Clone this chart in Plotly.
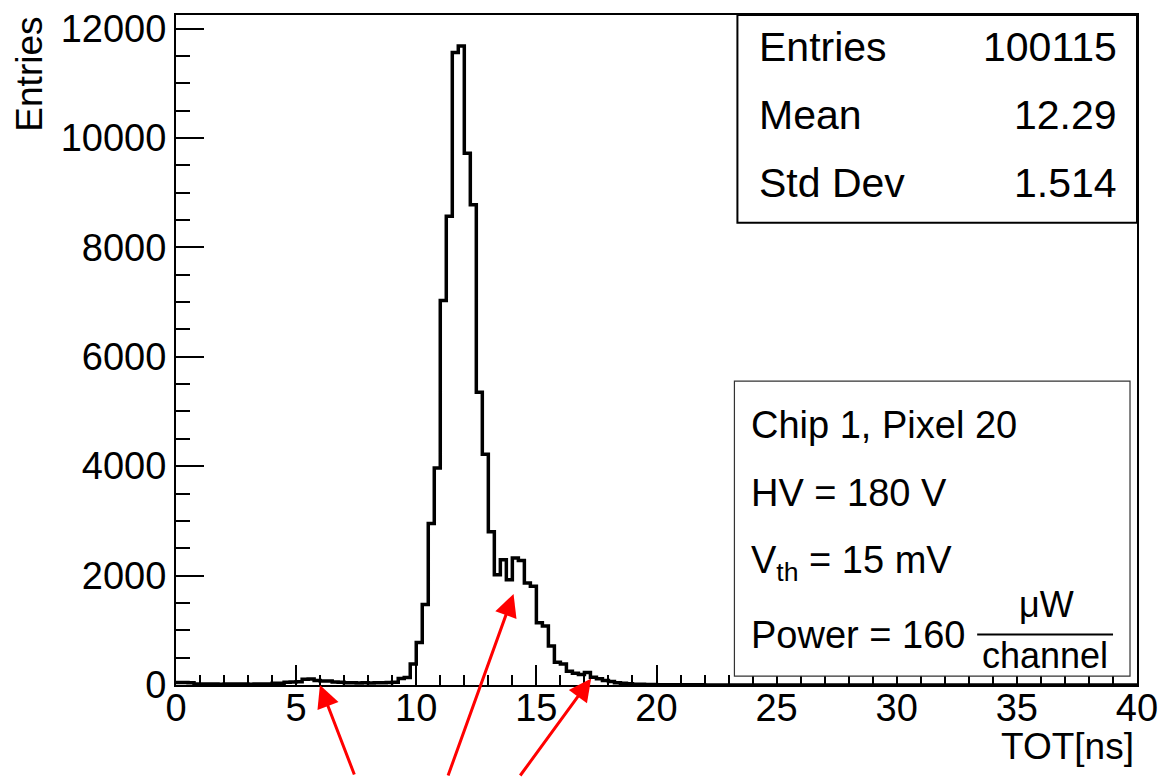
import numpy as np
import plotly.graph_objects as go

# ---------------- data ----------------
BIN_LOW = 0.0
BIN_WIDTH = 0.25
counts = [
    45, 45, 40, 20, 20, 18, 20, 15, 18, 20, 18, 20, 15, 20, 18, 20,   # 0 - 4
    30, 32, 50, 55, 60, 105, 110, 80, 75, 75, 55, 50,                 # 4 - 7
    42, 40, 38, 40, 38, 40, 42, 45, 50, 120, 135, 385,                # 7 - 10
    775, 1470, 2950, 3965, 7030, 8570, 11560, 11680,                   # 10 - 12
    9720, 8780, 5350, 4220, 2800, 2015, 2290, 1925,                    # 12 - 14
    2320, 2275, 1865, 1805, 1140, 1080, 715, 415,                      # 14 - 16
    385, 250, 215, 190, 228, 142, 113, 82,                             # 16 - 18
    64, 40, 30, 22, 15, 12, 10, 8,                                     # 18 - 20
    6, 5, 5, 4, 4, 3, 3, 3, 2, 2, 2, 2, 1, 1, 1, 1,                    # 20 - 24
] + [0] * 64

x_ticks = [0, 5, 10, 15, 20, 25, 30, 35, 40]
y_ticks = [0, 2000, 4000, 6000, 8000, 10000, 12000]

stats_labels = ["Entries", "Mean", "Std Dev"]
stats_values = ["100115", "12.29", "1.514"]

info_lines = ["Chip 1, Pixel 20", "HV = 180 V", "V<sub>th</sub> = 15 mV", "Power = 160"]
frac_num = "\u03bcW"
frac_den = "channel"

# arrow tips (data coords) and tails (pixel offsets)
arrow_tip_x = [5.99, 14.05, 17.28]
arrow_tip_y = [0, 1665, 121]
arrow_ax = [35, -66, -72]
arrow_ay = [91, 184, 99]

# ---------------- layout geometry (pixels) ----------------
W, H = 1166, 777
L, R, T, B = 176, 1138, 8, 685
PW, PH = R - L, B - T
FONT = "Liberation Sans, Arial, Helvetica, sans-serif"


def px(xp):
    return (xp - L) / PW


def py(yp):
    return (B - yp) / PH


edges = [BIN_LOW + i * BIN_WIDTH for i in range(len(counts) + 1)]
xs = edges[:-1] + [edges[-1]]
ys = counts + [counts[-1]]

fig = go.Figure()
fig.add_trace(go.Scatter(
    x=xs, y=ys, mode="lines", line_shape="hv",
    line=dict(color="black", width=3.5), showlegend=False, hoverinfo="skip",
))

y_top = 12000 + (21.7 - T) / 110.6 * 2000

fig.update_layout(
    width=W, height=H,
    margin=dict(l=L, r=W - R, t=T, b=H - B, pad=0),
    paper_bgcolor="white", plot_bgcolor="white",
    font=dict(family=FONT, color="black"),
    showlegend=False,
)
fig.update_xaxes(
    range=[0, 40], tickvals=x_ticks, ticktext=[str(v) for v in x_ticks],
    ticks="inside", ticklen=20, tickwidth=1.5, tickcolor="black",
    minor=dict(dtick=1, tick0=0, ticks="inside", ticklen=10, tickwidth=1.5, tickcolor="black"),
    showline=True, linewidth=2, linecolor="black", mirror=True,
    showgrid=False, zeroline=False,
    tickfont=dict(size=38, family=FONT, color="black"),
    ticklabelstandoff=-12,
)
fig.update_yaxes(
    range=[0, y_top], tickvals=y_ticks, ticktext=[str(v) for v in y_ticks],
    ticks="inside", ticklen=28, tickwidth=1.5, tickcolor="black",
    minor=dict(dtick=500, tick0=0, ticks="inside", ticklen=14, tickwidth=1.5, tickcolor="black"),
    showline=True, linewidth=2, linecolor="black", mirror=True,
    showgrid=False, zeroline=False,
    tickfont=dict(size=38, family=FONT, color="black"),
    ticklabelstandoff=0,
)

shapes = []
annotations = []

# axis titles
annotations.append(dict(text="Entries", xref="paper", yref="paper",
                        x=px(29), y=py(8), xanchor="center", yanchor="top",
                        textangle=-90, showarrow=False,
                        font=dict(size=37, family=FONT, color="black")))
annotations.append(dict(text="TOT[ns]", xref="paper", yref="paper",
                        x=px(1137), y=py(747), xanchor="right", yanchor="middle",
                        showarrow=False,
                        font=dict(size=37, family=FONT, color="black")))

# stats box
shapes.append(dict(type="rect", xref="paper", yref="paper",
                   x0=px(738), x1=px(1138), y0=py(218), y1=py(8),
                   line=dict(color="black", width=2), fillcolor="white", layer="above"))
for i, (lab, val) in enumerate(zip(stats_labels, stats_values)):
    yc = 40 + i * 69
    annotations.append(dict(text=lab, xref="paper", yref="paper", x=px(758), y=py(yc),
                            xanchor="left", yanchor="middle", showarrow=False,
                            font=dict(size=41, family=FONT, color="black")))
    annotations.append(dict(text=val, xref="paper", yref="paper", x=px(1120), y=py(yc),
                            xanchor="right", yanchor="middle", showarrow=False,
                            font=dict(size=41, family=FONT, color="black")))

# info box
shapes.append(dict(type="rect", xref="paper", yref="paper",
                   x0=px(735), x1=px(1131), y0=py(676), y1=py(378),
                   line=dict(color="#333333", width=1.2), fillcolor="white", layer="above"))
info_y = [422, 491, 562, 634]
for t, yc in zip(info_lines, info_y):
    annotations.append(dict(text=t, xref="paper", yref="paper", x=px(750), y=py(yc),
                            xanchor="left", yanchor="middle", showarrow=False,
                            font=dict(size=38, family=FONT, color="black")))
annotations.append(dict(text=frac_num, xref="paper", yref="paper", x=px(1047), y=py(604),
                        xanchor="center", yanchor="middle", showarrow=False,
                        font=dict(size=36, family=FONT, color="black")))
annotations.append(dict(text=frac_den, xref="paper", yref="paper", x=px(1046), y=py(655),
                        xanchor="center", yanchor="middle", showarrow=False,
                        font=dict(size=36, family=FONT, color="black")))
shapes.append(dict(type="line", xref="paper", yref="paper",
                   x0=px(978), x1=px(1114), y0=py(634), y1=py(634),
                   line=dict(color="black", width=2), layer="above"))

# red arrows
for xt, yt, ax, ay in zip(arrow_tip_x, arrow_tip_y, arrow_ax, arrow_ay):
    annotations.append(dict(x=xt, y=yt, xref="x", yref="y", ax=ax, ay=ay,
                            axref="pixel", ayref="pixel", text="", showarrow=True,
                            arrowhead=2, arrowsize=1.5, arrowwidth=3, arrowcolor="red",
                            standoff=0))

fig.update_layout(shapes=shapes, annotations=annotations)
fig.write_html("out.html", config={"displayModeBar": False},
               post_script="document.body.style.margin='0px';")
